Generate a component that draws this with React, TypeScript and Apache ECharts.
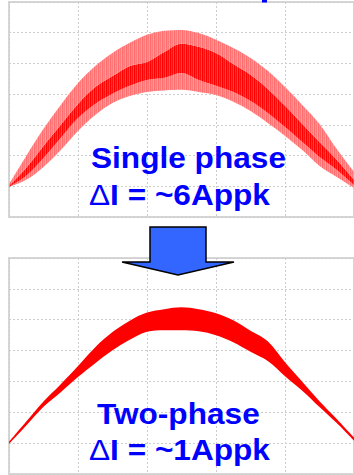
import { useEffect, useRef } from "react";
import * as echarts from "echarts";

// Horizontal positions of the envelope samples, in scope divisions
const xDiv = [0, 0.25, 0.5, 0.75, 1, 1.25, 1.5, 1.75, 2, 2.25, 2.5, 2.75, 3, 3.25, 3.5, 3.75, 4, 4.25, 4.5, 4.75, 5];

// Single-phase inductor current: outer ripple envelope and the denser inner band (divisions)
const singleUpper = [1.07, 1.99, 2.87, 3.65, 4.36, 4.92, 5.34, 5.67, 5.93, 6.06, 6.09, 5.99, 5.77, 5.5, 5.18, 4.76, 4.23, 3.65, 3.03, 2.21, 1.47];
const singleDarkTop = [1.01, 1.6, 2.31, 3.0, 3.68, 4.23, 4.59, 4.92, 5.05, 5.37, 5.64, 5.54, 5.34, 4.98, 4.63, 4.17, 3.62, 3.03, 2.44, 1.86, 1.21];
const singleDarkBottom = [0.98, 1.34, 1.92, 2.57, 3.22, 3.68, 4.01, 4.27, 4.46, 4.53, 4.69, 4.46, 4.27, 4.07, 3.78, 3.39, 2.93, 2.44, 1.95, 1.53, 1.04];
const singleLower = [0.98, 1.21, 1.63, 2.18, 2.8, 3.32, 3.71, 3.94, 4.07, 4.12, 4.14, 4.07, 3.97, 3.75, 3.45, 3.06, 2.64, 2.18, 1.66, 1.3, 0.94];

// Two-phase (interleaved) input current envelope (divisions)
const twoUpper = [1.04, 1.7, 2.35, 2.91, 3.5, 4.11, 4.6, 4.97, 5.23, 5.34, 5.4, 5.34, 5.21, 4.98, 4.64, 4.3, 3.62, 2.99, 2.36, 1.78, 1.18];
const twoLower = [0.97, 1.57, 2.18, 2.65, 3.14, 3.59, 4.01, 4.35, 4.61, 4.66, 4.66, 4.63, 4.5, 4.27, 3.96, 3.66, 3.17, 2.7, 2.17, 1.65, 1.08];

// Captions
const singleTitle = "Single phase";
const singleRipple = "I = ~6Appk";
const twoTitle = "Two-phase";
const twoRipple = "I = ~1Appk";

const BLUE = "#0000ff";
const FS = 29;

// Vertical switching-ripple striations used as area fills
const LIGHT_STRIPES = ["#ff7a7a", "#ff9a9a", "#ff6e6e", "#ff8c8c"];
const DARK_STRIPES = ["#ff1010", "#ff4444", "#ff0000", "#ff3030"];

function stripes(colors: string[]) {
  const c = document.createElement("canvas");
  c.width = colors.length;
  c.height = 4;
  const ctx = c.getContext("2d");
  if (ctx) {
    colors.forEach((col, i) => {
      ctx.fillStyle = col;
      ctx.fillRect(i, 0, 1, 4);
    });
  }
  return { image: c, repeat: "repeat" };
}

function diff(a: number[], b: number[]) {
  return a.map((v, i) => +(v - b[i]).toFixed(3));
}

function bandSeries(name: string, idx: number, stack: string, data: number[], color: any) {
  return {
    name,
    type: "line",
    xAxisIndex: idx,
    yAxisIndex: idx,
    stack,
    data,
    symbol: "none",
    smooth: 0.35,
    lineStyle: { width: 0 },
    areaStyle: color ? { color, opacity: 1 } : { opacity: 0 },
    silent: true,
  };
}

function axisPair(idx: number, yMax: number) {
  const split = { lineStyle: { color: "#cdcdcd", type: [2, 2], width: 1 } };
  return {
    x: {
      type: "category",
      gridIndex: idx,
      data: xDiv.map(String),
      boundaryGap: false,
      axisLabel: { show: false },
      axisTick: { show: false },
      axisLine: { show: false },
      splitLine: { show: true, interval: (i: number) => i % 4 === 0, ...split },
    },
    y: {
      type: "value",
      gridIndex: idx,
      min: 0,
      max: yMax,
      interval: 1,
      axisLabel: { show: false },
      axisTick: { show: false },
      axisLine: { show: false },
      splitLine: { show: true, ...split },
    },
  };
}

function caption(x: number, baseline: number, title: string, rippleText: string, x2: number, baseline2: number) {
  return [
    {
      type: "text",
      x,
      y: baseline - 0.35 * FS,
      scaleX: 1.09,
      z: 10,
      style: {
        text: title,
        font: `bold ${FS}px "Liberation Sans", Arial, sans-serif`,
        fill: BLUE,
        align: "left",
        verticalAlign: "middle",
      },
    },
    {
      type: "text",
      x: x2,
      y: baseline2 - 0.35 * FS,
      scaleX: 1.09,
      z: 10,
      style: {
        text: `{d|Δ}{b|${rippleText}}`,
        align: "left",
        verticalAlign: "middle",
        rich: {
          d: { font: `${FS}px "Liberation Sans", Arial, sans-serif`, fill: BLUE },
          b: { font: `bold ${FS}px "Liberation Sans", Arial, sans-serif`, fill: BLUE },
        },
      },
    },
  ];
}

export default function App() {
  const ref = useRef<HTMLDivElement>(null);

  useEffect(() => {
    if (!ref.current) return;
    const chart = echarts.init(ref.current, null, { renderer: "svg" });
    const a0 = axisPair(0, 7);
    const a1 = axisPair(1, 7);
    const gridStyle = { show: true, borderColor: "#d6d6d6", borderWidth: 2, backgroundColor: "#ffffff" };
    const light = stripes(LIGHT_STRIPES);
    const dark = stripes(DARK_STRIPES);

    chart.setOption({
      animation: false,
      backgroundColor: "#ffffff",
      grid: [
        { left: 9, top: 2, width: 346.5, height: 215, ...gridStyle },
        { left: 9, top: 258, width: 346.5, height: 216, ...gridStyle },
      ],
      xAxis: [a0.x, a1.x],
      yAxis: [a0.y, a1.y],
      series: [
        bandSeries("base1", 0, "single", singleLower, null),
        bandSeries("outerLow", 0, "single", diff(singleDarkBottom, singleLower), light),
        bandSeries("inner", 0, "single", diff(singleDarkTop, singleDarkBottom), dark),
        bandSeries("outerHigh", 0, "single", diff(singleUpper, singleDarkTop), light),
        bandSeries("base2", 1, "two", twoLower, null),
        bandSeries("band2", 1, "two", diff(twoUpper, twoLower), "#ff0000"),
      ],
      graphic: [
        // descender of the heading above the frame
        { type: "rect", shape: { x: 262, y: 0, width: 5, height: 2.5 }, style: { fill: BLUE }, z: 10 },
        ...caption(91, 168, singleTitle, singleRipple, 89, 205),
        ...caption(97, 424, twoTitle, twoRipple, 89, 460),
        {
          type: "polygon",
          z: 20,
          shape: {
            points: [
              [150, 227],
              [206, 227],
              [206, 262],
              [234, 262],
              [178, 275],
              [122, 262],
              [150, 262],
            ],
          },
          style: { fill: "#3366ff", stroke: "#000000", lineWidth: 1.5, lineJoin: "miter" },
        },
      ],
    });
    return () => chart.dispose();
  }, []);

  return (
    <div
      ref={ref}
      style={{ position: "fixed", left: 0, top: 0, width: 354, height: 475, background: "#fff" }}
    />
  );
}
